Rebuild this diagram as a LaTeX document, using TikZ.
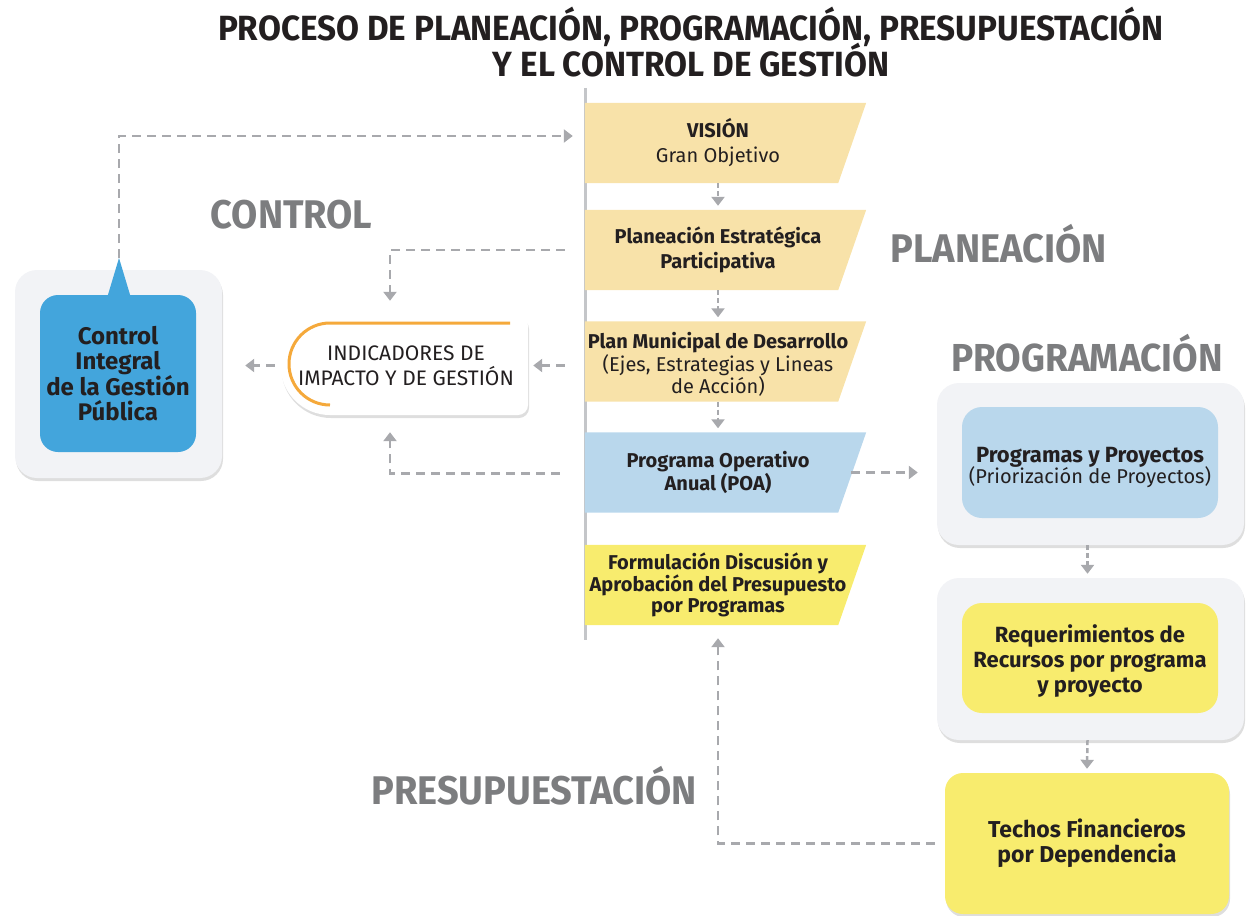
\documentclass[tikz,border=0pt]{standalone}
\usepackage{fontspec}
\setmainfont{Fira Sans}
\newfontfamily\headfont{Fira Sans}[FakeStretch=0.95]
\usetikzlibrary{arrows.meta,shadows,backgrounds,calc}
\definecolor{beige}{HTML}{F8E2A9}
\definecolor{lblue}{HTML}{B9D7EC}
\definecolor{lyel}{HTML}{F8EC6E}
\definecolor{cblue}{HTML}{43A5DC}
\definecolor{hgrey}{HTML}{7C7D7F}
\definecolor{agrey}{HTML}{A8A9AD}
\definecolor{boxgrey}{HTML}{F2F3F6}
\definecolor{orng}{HTML}{F5A93B}
\definecolor{txt}{HTML}{231F20}
\definecolor{edgegrey}{HTML}{C4C6C9}
\newcommand\slantfill[2]{\fill[#2] (#1.north west) -- ([xshift=15pt]#1.north east) -- ([xshift=-13pt]#1.south east) -- (#1.south west) -- cycle;}
\tikzset{
  softshadow/.style={drop shadow={shadow xshift=1pt, shadow yshift=-3pt, fill=black, opacity=0.13}},
  colbox/.style={minimum width=266, minimum height=80, inner sep=0, align=center, text=txt, font=\fontsize{20}{21}\selectfont},
  heading/.style={text=hgrey, font=\headfont\bfseries\fontsize{40}{44}\selectfont, inner sep=0},
  outerbox/.style={fill=boxgrey, rounded corners=22, minimum width=307, minimum height=162, inner sep=0, softshadow},
  innerbox/.style={rounded corners=20, minimum width=256, minimum height=111, inner sep=0, align=center, text=txt, font=\bfseries\fontsize{22}{25}\selectfont},
  labtxt/.style={inner sep=0, align=center, text=txt, font=\bfseries\fontsize{22}{25}\selectfont},
  dline/.style={draw=agrey, line width=2.5pt, dash pattern=on 9pt off 6pt, -{Triangle[length=9pt,width=13pt]}},
  sline/.style={dline, dash pattern=on 5pt off 3pt},
}
\begin{document}
\begin{tikzpicture}[x=1pt,y=-1pt]
\useasboundingbox (0,0) rectangle (1246,915);

% title
\node[align=center, text=txt, font=\headfont\bfseries\fontsize{35}{36}\selectfont, inner sep=0] (title) at (691,42)
  {PROCESO DE PLANEACIÓN, PROGRAMACIÓN, PRESUPUESTACIÓN\\[-4pt]Y EL CONTROL DE GESTIÓN};

% section headings
\node[heading] (hctrl) at (291.5,215) {CONTROL};
\node[heading] (hplan) at (998.5,244) {PLANEACIÓN};
\node[heading, font=\headfont\bfseries\fontsize{39}{44}\selectfont] (hprog) at (1087,353) {PROGRAMACIÓN};
\node[heading] (hpres) at (534,786) {PRESUPUESTACIÓN};

% central column
\node[colbox, font=\fontsize{20}{25}\selectfont] (vis) at (718,143) {\textbf{VISIÓN}\\Gran Objetivo};
\node[colbox, font=\bfseries\fontsize{20}{25}\selectfont] (pe) at (718,250) {Planeación Estratégica\\Participativa};
\node[colbox, label={[labtxt, font=\fontsize{20}{20.5}\selectfont, yshift=-3pt]center:{\textbf{Plan Municipal de Desarrollo}\\(Ejes, Estrategias y Lineas\\de Acción)}}] (pm) at (718,361.5) {};
\node[colbox, font=\bfseries\fontsize{20}{20}\selectfont] (poa) at (718,472.5) {Programa Operativo\\Anual (POA)};
\node[colbox, font=\bfseries\fontsize{20}{21}\selectfont] (form) at (718,585) {Formulación Discusión y\\Aprobación del Presupuesto\\por Programas};
\begin{pgfonlayer}{background}
  \draw[edgegrey, line width=3pt] (585,88) -- (585,640);
  \slantfill{vis}{beige}
  \slantfill{pe}{beige}
  \slantfill{pm}{beige}
  \slantfill{poa}{lblue}
  \slantfill{form}{lyel}
\end{pgfonlayer}

% control box
\node[outerbox, minimum height=208, minimum width=207] (ctrlout) at (118.5,374) {};
\coordinate (ctip) at (119,258);
\fill[cblue] (107,298) -- (ctip) -- (131,298) -- cycle;
\node[innerbox, fill=cblue, minimum width=156, minimum height=157, rounded corners=18, font=\bfseries\fontsize{24}{25}\selectfont] (ctrl) at (118,373.5) {Control\\Integral\\de la Gestión\\Pública};

% indicadores
\node[align=center, text=txt, font=\fontsize{21}{25}\selectfont, minimum width=248, minimum height=99, inner sep=0] (ind) at (404,365.5) {\hspace*{4pt}INDICADORES DE\\\hspace*{4pt}IMPACTO Y DE GESTIÓN};
\begin{pgfonlayer}{background}
  \fill[white, softshadow] (330,316) -- (518,316) arc[start angle=-90,end angle=0,radius=10] -- (528,405) arc[start angle=0,end angle=90,radius=10] -- (330,415) arc[start angle=90,end angle=270,radius=49.5] -- cycle;
  \draw[orng, line width=3pt] (510,323) -- (330,323) arc[start angle=270,end angle=90,radius=41];
\end{pgfonlayer}

% right boxes
\node[outerbox] (out1) at (1090.5,464) {};
\node[innerbox, fill=lblue, label={[labtxt, yshift=-5pt]center:{Programas y Proyectos\\[-4pt]{\mdseries\fontsize{20}{20}\selectfont(Priorización de Proyectos)}}}] (prog) at (1090,462.5) {};
\node[outerbox] (out2) at (1090.5,659) {};
\node[innerbox, fill=lyel, minimum height=110, label={[labtxt, yshift=-3pt]center:{Requerimientos de\\Recursos por programa\\y proyecto}}] (req) at (1090,658) {};
\node[innerbox, fill=lyel, rounded corners=18, minimum width=284, minimum height=141, softshadow, font=\bfseries\fontsize{23}{25}\selectfont] (box3) at (1087,843.5) {Techos Financieros\\por Dependencia};

% connectors
\draw[dline] (ctip) |- ([xshift=-12pt,yshift=7pt]vis.west);
\draw[sline] (vis.south) -- ([yshift=4pt]pe.north);
\draw[sline] (pe.south) -- ([yshift=4pt]pm.north);
\draw[sline] (pm.south) -- ([yshift=4pt]poa.north);
\draw[dline] ([xshift=-20pt]pe.west) -| ([xshift=-14pt,yshift=15pt]ind.north);
\draw[dline] ([xshift=-20pt]pm.west |- ind.east) -- ([xshift=5pt]ind.east);
\draw[dline] ([xshift=-5pt]ind.west) -- ([xshift=23pt]ctrlout.east |- ind.west);
\draw[dline] ([xshift=-25pt,yshift=-1pt]poa.west) -| ([xshift=-14pt,yshift=-17pt]ind.south);
\draw[dline] (poa.east) -- ([xshift=-19pt]out1.west |- poa.east);
\draw[sline] ([xshift=-3pt]out1.south) -- ([xshift=-3pt,yshift=4pt]out2.north);
\draw[sline] ([xshift=-3pt]out2.south) -- ([yshift=4pt]box3.north);
\draw[dline] ([xshift=-10pt]box3.west) -| ([yshift=-13pt]form.south);
\end{tikzpicture}
\end{document}
